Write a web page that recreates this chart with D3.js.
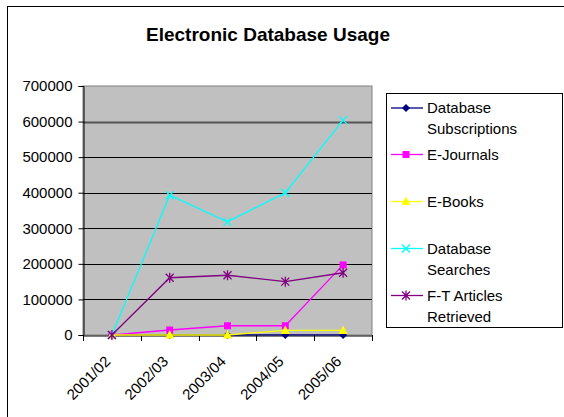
<!DOCTYPE html>
<html><head><meta charset="utf-8">
<script src="https://cdn.jsdelivr.net/npm/d3@7"></script>
<style>body{margin:0;background:#fff;}svg{display:block;font-family:Arial,"Liberation Sans",sans-serif;}</style>
</head><body><svg id="c" width="564" height="417"></svg>
<script>
const categories = ["2001/02","2002/03","2003/04","2004/05","2005/06"];
const subscriptions = [0, 60, 70, 80, 90];
const eJournals = [0, 14000, 26000, 26000, 197000];
const eBooks = [0, 0, 0, 13000, 13000];
const dbSearches = [0, 393000, 318000, 400000, 604000];
const ftArticles = [0, 161000, 168000, 150000, 175000];
const yTicks = [0,100000,200000,300000,400000,500000,600000,700000];
const seriesNames = ["Database Subscriptions","E-Journals","E-Books","Database Searches","F-T Articles Retrieved"];
const legendLines = [["Database","Subscriptions"],["E-Journals"],["E-Books"],["Database","Searches"],["F-T Articles","Retrieved"]];
const colors = ["#000080","#FF00FF","#FFFF00","#00FFFF","#800080"];
const markers = ["diamond","square","triangle","x","star"];
const seriesData = [subscriptions, eJournals, eBooks, dbSearches, ftArticles];

const svg = d3.select("#c");
svg.append("rect").attr("x",7.5).attr("y",6.5).attr("width",600).attr("height",500)
  .attr("fill","#fff").attr("stroke","#000").attr("stroke-width",1);

svg.append("text").attr("x",268).attr("y",41).attr("text-anchor","middle")
  .attr("font-size","19px").attr("font-weight","bold").text("Electronic Database Usage");

const L=83, R=372, T=86, B=335;
const x = d3.scaleBand().domain(categories).range([L,R]);
const y = d3.scaleLinear().domain([0,700000]).range([B,T]);

svg.append("rect").attr("x",L).attr("y",T).attr("width",R-L).attr("height",B-T)
  .attr("fill","#C0C0C0").attr("stroke","#808080").attr("stroke-width",1);

svg.append("g").selectAll("line").data(yTicks.filter(d=>d>0 && d<700000)).join("line")
  .attr("x1",L).attr("x2",R).attr("y1",d=>Math.round(y(d))+0.5).attr("y2",d=>Math.round(y(d))+0.5)
  .attr("stroke",d=>d===600000?"#555":"#000").attr("stroke-width",d=>d===600000?2:1);

const ya = svg.append("g").attr("transform",`translate(${L+0.5},0)`)
  .call(d3.axisLeft(y).tickValues(yTicks).tickSize(5).tickPadding(6).tickFormat(d3.format("d")));
ya.select(".domain").attr("stroke","#000");
ya.selectAll("text").attr("font-size","15px").attr("fill","#000").attr("font-family","Arial,'Liberation Sans',sans-serif");

const xa = svg.append("g").attr("transform",`translate(0,${B+0.5})`)
  .call(d3.axisBottom(x).tickSize(0).tickFormat(""));
xa.select(".domain").attr("stroke","#000");
const xt = d3.scaleLinear().domain([0,categories.length]).range([L,R]);
svg.append("g").selectAll("line").data(d3.range(categories.length+1)).join("line")
  .attr("x1",d=>Math.round(xt(d))+0.5).attr("x2",d=>Math.round(xt(d))+0.5)
  .attr("y1",B).attr("y2",B+6).attr("stroke","#000");
svg.append("g").selectAll("text").data(categories).join("text")
  .attr("transform",d=>`translate(${x(d)+x.bandwidth()/2-8},${B+20}) rotate(-45)`)
  .attr("text-anchor","end").attr("dy","0.7em").attr("font-size","15px").text(d=>d);

function drawMarker(g, type, color, cx, cy){
  if(type==="diamond"){
    g.append("path").attr("d",`M${cx},${cy-4}L${cx+4},${cy}L${cx},${cy+4}L${cx-4},${cy}Z`).attr("fill",color);
  } else if(type==="square"){
    g.append("rect").attr("x",cx-3.5).attr("y",cy-3.5).attr("width",7).attr("height",7).attr("fill",color);
  } else if(type==="triangle"){
    g.append("path").attr("d",`M${cx},${cy-5}L${cx+4.5},${cy+3.5}L${cx-4.5},${cy+3.5}Z`).attr("fill",color);
  } else if(type==="x"){
    g.append("path").attr("d",`M${cx-4},${cy-4}L${cx+4},${cy+4}M${cx-4},${cy+4}L${cx+4},${cy-4}`).attr("stroke",color).attr("stroke-width",1.3);
  } else if(type==="star"){
    g.append("path").attr("d",`M${cx-4},${cy-4}L${cx+4},${cy+4}M${cx-4},${cy+4}L${cx+4},${cy-4}M${cx},${cy-5}L${cx},${cy+5}`).attr("stroke",color).attr("stroke-width",1.3);
  }
}

const line = d3.line().x((d,i)=>x(categories[i])+x.bandwidth()/2).y(d=>y(d));
seriesData.forEach((vals,si)=>{
  const g = svg.append("g");
  g.append("path").datum(vals).attr("d",line).attr("fill","none").attr("stroke",colors[si]).attr("stroke-width",1.3);
  vals.forEach((v,i)=>drawMarker(g, markers[si], colors[si], x(categories[i])+x.bandwidth()/2, y(v)));
});

const lg = svg.append("g");
lg.append("rect").attr("x",386.5).attr("y",93.5).attr("width",176).attr("height",234)
  .attr("fill","#fff").attr("stroke","#000").attr("stroke-width",1);
const legY = [108,154.5,201.5,248.5,295.5];
seriesNames.forEach((n,si)=>{
  const g = lg.append("g");
  g.append("line").attr("x1",391).attr("x2",423).attr("y1",legY[si]).attr("y2",legY[si]).attr("stroke",colors[si]).attr("stroke-width",1.3);
  drawMarker(g, markers[si], colors[si], 406, legY[si]);
  legendLines[si].forEach((t,k)=>{
    g.append("text").attr("x",427).attr("y",legY[si]+5+k*21).attr("font-size","15px").text(t);
  });
});
</script></body></html>
